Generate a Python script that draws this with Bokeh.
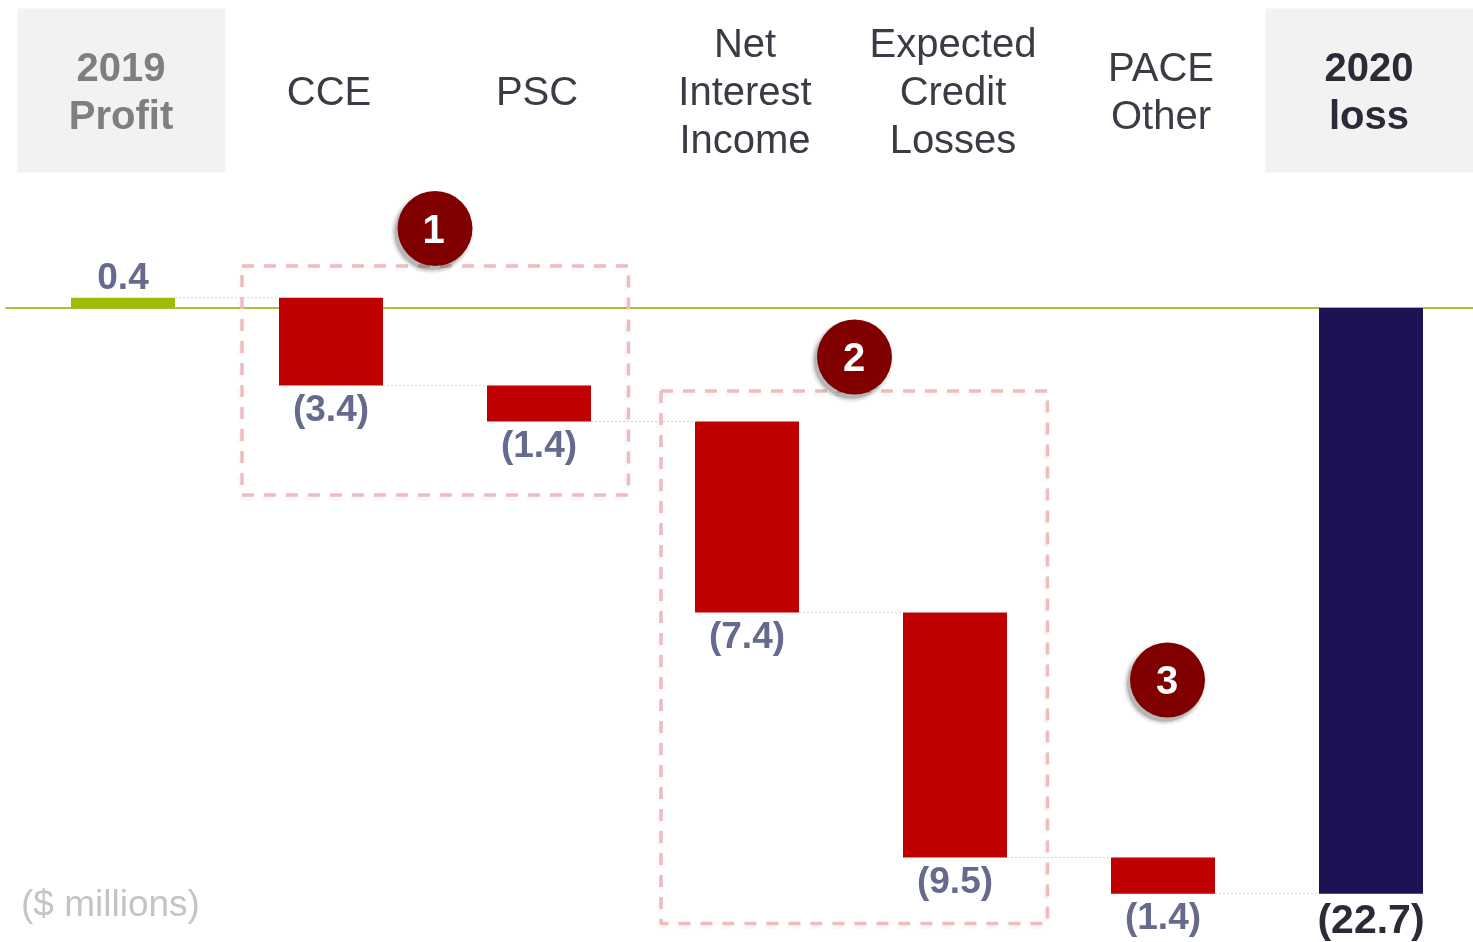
from bokeh.plotting import figure
from bokeh.models import Range1d, ColumnDataSource
from bokeh.core.properties import value
from bokeh.embed import file_html
from bokeh.resources import INLINE

# ---- data ----
categories = ["2019 Profit", "CCE", "PSC", "Net Interest Income",
              "Expected Credit Losses", "PACE Other", "2020 loss"]
values = [0.4, -3.4, -1.4, -7.4, -9.5, -1.4, -22.7]
value_labels = ["0.4", "(3.4)", "(1.4)", "(7.4)", "(9.5)", "(1.4)", "(22.7)"]
header_lines = [["2019", "Profit"], ["CCE"], ["PSC"], ["Net", "Interest", "Income"],
                ["Expected", "Credit", "Losses"], ["PACE", "Other"], ["2020", "loss"]]
kinds = ["start", "step", "step", "step", "step", "step", "total"]
callouts = ["1", "2", "3"]

# ---- styles ----
COL = {"start": "#9fbc06", "step": "#c00000", "total": "#1b1354"}
FONT = value("Liberation Sans")
W, H = 1473, 942
STEP, UNIT = 208.0, 25.8          # px per category, px per $ million
X0, Y0 = 122.5, 307.5             # image px of category 0 and of zero


def X(px):
    return (px - X0) / STEP


def Y(py):
    return (Y0 - py) / UNIT


p = figure(width=W, height=H, output_backend="svg", toolbar_location=None,
           x_range=Range1d(X(0), X(W)), y_range=Range1d(Y(H), Y(0)),
           min_border=0, min_border_left=0, min_border_right=0,
           min_border_top=0, min_border_bottom=0,
           background_fill_color="white", border_fill_color="white",
           outline_line_color=None,
           styles={"position": "fixed", "left": "0px", "top": "0px"})
p.axis.visible = False
p.xaxis.visible = False
p.yaxis.visible = False
p.grid.visible = False

# ---- waterfall geometry from the values ----
xs = list(range(len(values)))
tops, bottoms, ends = [], [], []
run = 0.0
for v, k in zip(values, kinds):
    if k == "total":
        tops.append(0.0)
        bottoms.append(v)
        ends.append(v)
    else:
        new = run + v
        tops.append(max(run, new))
        bottoms.append(min(run, new))
        ends.append(new)
        run = new

# header panels
p.quad(left=[X(17), X(1265)], right=[X(225), X(1473)], top=[Y(8)] * 2, bottom=[Y(172)] * 2,
       fill_color="#f2f2f2", line_color=None)

# zero line
p.line([X(5), X(1473)], [0, 0], line_color="#a6c23c", line_width=2)

# connectors
for i in range(len(values) - 1):
    p.line([i + 0.25, i + 0.75], [ends[i], ends[i]], line_color="#d6d6d6",
           line_width=1, line_dash="2 2")

# bars
src = ColumnDataSource(dict(x=xs, top=tops, bottom=bottoms,
                            color=[COL[k] for k in kinds]))
p.vbar(x="x", width=0.5, top="top", bottom="bottom", fill_color="color",
       line_color=None, source=src)

# dashed group boxes (with a faint shadow)
boxes = [(X(241.5), X(628), Y(265.5), Y(494.5)), (X(660.5), X(1047), Y(390.5), Y(923))]
for l, r, t, b in boxes:
    bx = [l, r, r, l, l]
    by = [t, t, b, b, t]
    p.line([v - 2 / STEP for v in bx], [v - 3 / UNIT for v in by], line_color="#808080",
           line_alpha=0.05, line_width=5, line_dash="12 10")
    p.line(bx, by, line_color="#eebcbc", line_width=3.5, line_dash="12 10")

# callouts
cx = [X(434.5), X(854), X(1167)]
cy = [Y(228), Y(356.5), Y(679.5)]
for grow, alpha in [(8, 0.04), (5, 0.06), (2, 0.09), (0, 0.12)]:
    p.scatter([v - 3 / STEP for v in cx], [v - 4 / UNIT for v in cy], size=75 + grow,
              marker="circle", fill_color="#000000", fill_alpha=alpha, line_color=None)
p.scatter(cx, cy, size=75, marker="circle", fill_color="#800000", line_color=None)
p.text(cx, cy, text=callouts, x_offset=[-1.5, -0.5, -0.5], text_font=FONT, text_font_size="40px",
       text_font_style="bold", text_color="white", text_align="center", text_baseline="middle")

# header text
line_gap = 48 / UNIT
hdr = {"normal": ([], [], []), "start": ([], [], []), "total": ([], [], [])}
for i, (lines, k) in enumerate(zip(header_lines, kinds)):
    key = k if k != "step" else "normal"
    for j, ln in enumerate(lines):
        hdr[key][0].append(i)
        hdr[key][1].append(Y(90) + ((len(lines) - 1) / 2 - j) * line_gap)
        hdr[key][2].append(ln)
hstyle = {"normal": ("#3b3b45", "normal"), "start": ("#7f7f7f", "bold"), "total": ("#2b2b38", "bold")}
for key, (hx, hy, ht) in hdr.items():
    p.text(hx, hy, text=ht, x_offset=-2, text_font=FONT, text_font_size="40px",
           text_font_style=hstyle[key][1], text_color=hstyle[key][0],
           text_align="center", text_baseline="middle")

# value labels
for i, (lab, k) in enumerate(zip(value_labels, kinds)):
    if k == "start":
        y, off, size, col = tops[i], -21.5, "37px", "#666a8c"
    elif k == "step":
        y, off, size, col = bottoms[i], 23, "37px", "#666a8c"
    else:
        y, off, size, col = bottoms[i], 25, "41px", "#2b2b38"
    p.text([i], [y], text=[lab], y_offset=off, text_font=FONT, text_font_size=size,
           text_font_style="bold", text_color=col, text_align="center", text_baseline="middle")

p.text([X(20.5)], [Y(903)], text=["($ millions)"], text_font=FONT, text_font_size="37px",
       text_color="#c4c4c4", text_align="left", text_baseline="middle")

open("out.html", "w").write(file_html(p, INLINE))
